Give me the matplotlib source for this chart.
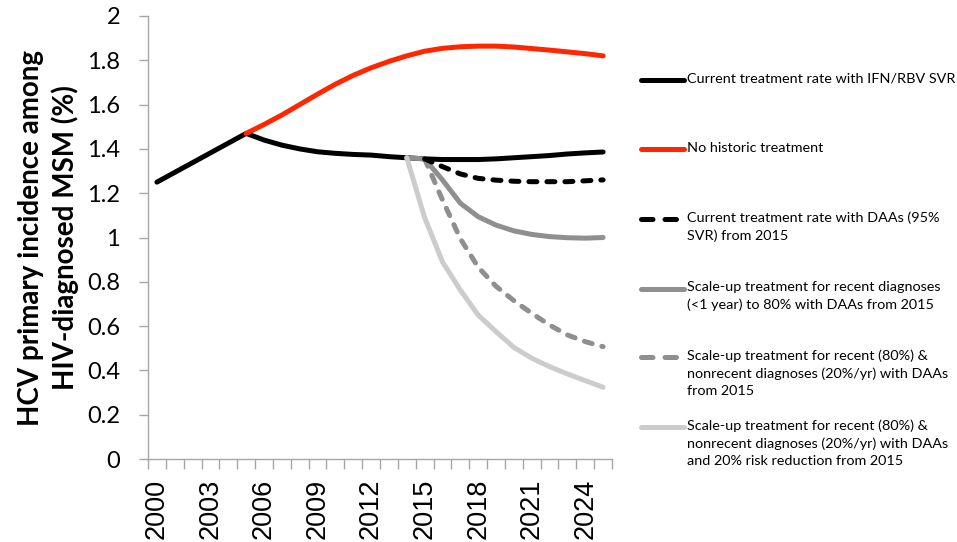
import numpy as np
import matplotlib
matplotlib.use("Agg")
import matplotlib.pyplot as plt

# ---------------- datos ----------------
anios = list(range(2000, 2026))
actual_ifn = [1.25, 1.294, 1.338, 1.382, 1.426, 1.47, 1.44, 1.417, 1.40, 1.387,
              1.38, 1.375, 1.372, 1.365, 1.36, 1.355, 1.352, 1.352, 1.352, 1.355,
              1.36, 1.365, 1.37, 1.377, 1.382, 1.386]

anios_sin = list(range(2005, 2026))
sin_tratamiento = [1.47, 1.51, 1.553, 1.60, 1.647, 1.692, 1.732, 1.766, 1.795, 1.82,
                   1.841, 1.854, 1.861, 1.864, 1.864, 1.86, 1.853, 1.846, 1.838, 1.83, 1.82]

anios_2015 = list(range(2015, 2026))
actual_daa = [1.355, 1.32, 1.287, 1.267, 1.259, 1.254, 1.252, 1.252, 1.252, 1.256, 1.26]
escala_no_recientes = [1.355, 1.17, 0.995, 0.866, 0.78, 0.715, 0.658, 0.605, 0.56, 0.53, 0.507]

anios_2014 = list(range(2014, 2026))
escala_recientes = [1.36, 1.355, 1.26, 1.155, 1.094, 1.056, 1.03, 1.014, 1.004, 0.999, 0.997, 1.0]
escala_riesgo = [1.36, 1.09, 0.89, 0.763, 0.65, 0.575, 0.504, 0.455, 0.417, 0.384, 0.354, 0.324]

etiquetas = [
    "Current treatment rate with IFN/RBV SVR",
    "No historic treatment",
    "Current treatment rate with DAAs (95%\nSVR) from 2015",
    "Scale-up treatment for recent diagnoses\n(<1 year) to 80% with DAAs from 2015",
    "Scale-up treatment for recent (80%) &\nnonrecent diagnoses (20%/yr) with DAAs\nfrom 2015",
    "Scale-up treatment for recent (80%) &\nnonrecent diagnoses (20%/yr) with DAAs\nand 20% risk reduction from 2015",
]

# ---------------- estilos ----------------
NEGRO = "#000000"
ROJO = "#ff2600"
GRIS = "#8f8f8f"
GRIS_CLARO = "#cccccc"
EJE = "#a6a6a6"
LW = 3.6
GUIONES = (1.6, 2.0)
GUIONES_LEYENDA = (2.3, 2.4)

estilos = [
    dict(color=NEGRO, linestyle="-"),
    dict(color=ROJO, linestyle="-"),
    dict(color=NEGRO, linestyle=(0, GUIONES)),
    dict(color=GRIS, linestyle="-"),
    dict(color=GRIS, linestyle=(0, GUIONES)),
    dict(color=GRIS_CLARO, linestyle="-"),
]
comun = dict(linewidth=LW, solid_capstyle="round", dash_capstyle="round",
             solid_joinstyle="round")

fig = plt.figure(figsize=(9.57, 5.42), dpi=100)
ax = fig.add_axes([148 / 957, 83 / 542, 464 / 957, 443 / 542])

series = [
    (anios, actual_ifn),
    (anios_sin, sin_tratamiento),
    (anios_2015, actual_daa),
    (anios_2014, escala_recientes),
    (anios_2015, escala_no_recientes),
    (anios_2014, escala_riesgo),
]
orden_z = [2, 3, 4, 3, 3, 3]
for (x, y), est, z in zip(series, estilos, orden_z):
    ax.plot(x, y, zorder=z, **est, **comun)

# ejes
ax.set_xlim(anios[0] - 0.5, anios[-1] + 0.5)
ax.set_ylim(0, 2)
ax.set_yticks(np.arange(0, 2.01, 0.2))
ax.set_yticklabels(["0", "0.2", "0.4", "0.6", "0.8", "1", "1.2", "1.4", "1.6", "1.8", "2"],
                   fontfamily="Lato", fontsize=17)
ax.set_xticks(anios[::3])
ax.set_xticklabels([str(a) for a in anios[::3]], rotation=90,
                   fontfamily="Liberation Sans", fontsize=19.5)
ax.set_xticks(np.arange(anios[0] - 0.5, anios[-1] + 1), minor=True)
ax.tick_params(axis="x", which="major", length=0, pad=14)
ax.tick_params(axis="x", which="minor", length=7, width=1, color=EJE, direction="out")
ax.tick_params(axis="y", length=6.5, width=1, color=EJE, pad=13.5)
for lado in ["top", "right"]:
    ax.spines[lado].set_visible(False)
for lado in ["left", "bottom"]:
    ax.spines[lado].set_color(EJE)
    ax.spines[lado].set_linewidth(1)

ax.set_ylabel("HCV primary incidence among\nHIV-diagnosed MSM (%)",
              fontfamily="Lato", fontweight="bold", fontsize=20, linespacing=1.35)
ax.yaxis.set_label_coords(-0.148, 0.5)

# ---------------- leyenda manual ----------------
leg = fig.add_axes([0, 0, 1, 1])
leg.set_xlim(0, 957)
leg.set_ylim(542, 0)
leg.axis("off")
y_entradas = [80, 149, 219, 288.5, 357, 427]
for est, texto, y in zip(estilos, etiquetas, y_entradas):
    est_leg = dict(est)
    if est["linestyle"] != "-":
        est_leg["linestyle"] = (0, GUIONES_LEYENDA)
    leg.plot([641, 684], [y, y], **est_leg, **comun)
    leg.text(687, y - 7.5, texto, fontfamily="Lato", fontsize=10.4,
             va="top", ha="left", linespacing=1.52)

fig.savefig("out.png", dpi=100)
